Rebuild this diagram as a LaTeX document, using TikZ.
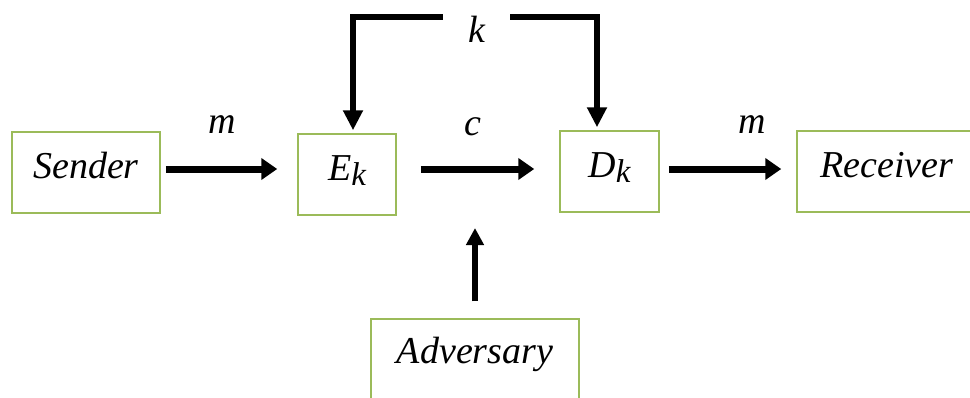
\documentclass[tikz,border=0pt]{standalone}
\usepackage{fontspec}
\setmainfont{Liberation Serif}
\usepackage{tikz}
\usetikzlibrary{arrows.meta, positioning}
\definecolor{boxgreen}{HTML}{9BBB59}
\newcommand\lowsub[2]{#1\raisebox{-5pt}{\fontsize{33}{38}\selectfont #2}}

\begin{document}
\begin{tikzpicture}[x=1pt, y=-1pt,
        font=\fontsize{38}{44}\selectfont\itshape,
        box/.style={draw=boxgreen, line width=1.5pt, inner sep=0pt, anchor=base,
                    text height=46pt, text depth=35pt},
        flow/.style={line width=7pt, -{Triangle[length=16pt, width=21pt]}},
        keyline/.style={line width=5.5pt, -{Triangle[length=20pt, width=19pt]}},
        advline/.style={line width=5.5pt, -{Triangle[length=17pt, width=17pt]}}]
                \useasboundingbox (0,0) rectangle (970,397);
                
                \node [box, minimum width=148pt] at (86,178) (Sender) {Sender};
                \node [box, minimum width=98pt] at (347,180) (Ek) {\lowsub{E}{k}};
                \node [box, minimum width=99pt] at (609.5,177) (Dk) {\lowsub{D}{k}};
                \node [box, minimum width=180pt] at (887,177) (Receiver) {Receiver};
                \node [box, minimum width=208pt, text height=44pt, text depth=60pt] at (475,363) (Adversary) {Adversary};
                
                \coordinate (lane) at (0,169);
                \coordinate (ktop) at (0,17);
                \coordinate (tap) at (475,228);
                
                \node [minimum width=67pt, inner sep=0pt] at (476.5,29) (k) {k};
                \node at (222,125) (m1) {m};
                \node at (473,127) (c) {c};
                \node at (752,125) (m2) {m};
                
                \draw [flow, shorten <=5pt, shorten >=20pt] (Sender.east |- lane) -- (Ek.west |- lane);
                \draw [flow, shorten <=24pt, shorten >=25pt] (Ek.east |- lane) -- (Dk.west |- lane);
                \draw [flow, shorten <=9pt, shorten >=15pt] (Dk.east |- lane) -- (Receiver.west |- lane);
                
                % key to both boxes
                \draw [keyline, shorten >=3pt] (k.west |- ktop) -| ([xshift=6pt]Ek.north);
                \draw [keyline, shorten >=3pt] (k.east |- ktop) -| ([xshift=-12.5pt]Dk.north);
                
                \draw [advline, shorten <=17pt] (Adversary.north) -- (tap);
            \end{tikzpicture}
\end{document}
